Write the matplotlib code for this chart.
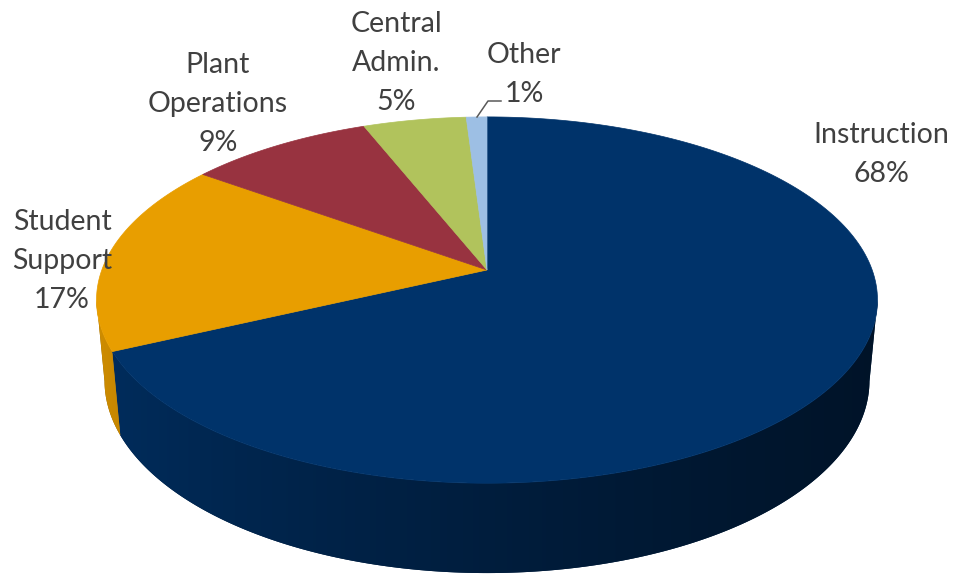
import numpy as np
import matplotlib
matplotlib.use("Agg")
import matplotlib.pyplot as plt
from matplotlib.patches import Polygon
from matplotlib.colors import to_rgb

# data
labels = ["Instruction", "Student\nSupport", "Plant\nOperations", "Central\nAdmin.", "Other"]
shares = [68, 17, 9, 5, 1]
colors = ["#00336a", "#e89e00", "#983340", "#b1c35c", "#9dbfe4"]

# label placement (x centre, first baseline) in pixels
label_pos = [(881, 143), (62, 230), (218, 73), (396, 32), (524, 63)]

# 3d view settings
W, H = 955, 575
cx, cy = 487, 270
elev = np.radians(27.56)
dist = 5.40
focal = 2080
depth = 0.238


def proj(theta, z):
    X = np.cos(theta)
    Y = np.sin(theta)
    d = dist + Y * np.cos(elev) - z * np.sin(elev)
    sx = focal * X / d
    sy = focal * (Y * np.sin(elev) + z * np.cos(elev)) / d
    return cx + sx, cy - sy


fig = plt.figure(figsize=(W / 100, H / 100), dpi=100)
ax = fig.add_axes([0, 0, 1, 1])
ax.set_xlim(0, W)
ax.set_ylim(H, 0)
ax.axis("off")

# slice angles, clockwise from 12 o'clock
fracs = np.array(shares) / sum(shares)
bounds = np.radians(90 - 360 * np.concatenate([[0], np.cumsum(fracs)]))

# visible part of the outer wall
lim = np.arcsin(np.cos(elev) / dist)
t0, t1 = -np.pi + lim, -lim
x_left = proj(t0, 0)[0]
x_right = proj(t1, 0)[0]

# horizontal shading, lighter on the left
xpix = np.arange(W) + 0.5
u = np.clip((xpix - x_left) / (x_right - x_left), 0, 1)
shade = 0.9 - 0.52 * u ** 0.7

for i in range(len(shares)):
    # clockwise, so the slice runs from bounds[i] down to bounds[i+1]
    hi = min(bounds[i], t1)
    lo = max(bounds[i + 1], t0)
    if hi <= lo:
        continue
    th = np.linspace(hi, lo, 200)
    xt, yt = proj(th, 0)
    xb, yb = proj(th[::-1], -depth)
    pts = list(zip(xt, yt)) + list(zip(xb, yb))
    c = np.array(to_rgb(colors[i]))
    wall = Polygon(pts, closed=True, facecolor=c * 0.6, edgecolor="none")
    ax.add_patch(wall)
    grad = (shade[:, None] * c[None, :])[None, :, :]
    im = ax.imshow(grad, extent=[0, W, H, 0], aspect="auto",
                   interpolation="bilinear", zorder=1.5)
    im.set_clip_path(wall)

# top faces
for i in range(len(shares)):
    th = np.linspace(bounds[i], bounds[i + 1], 200)
    xs, ys = proj(th, 0)
    pts = [(cx, cy)] + list(zip(xs, ys))
    ax.add_patch(Polygon(pts, closed=True, facecolor=colors[i],
                         edgecolor=colors[i], lw=0.5, zorder=2))

# labels
for i, (lab, (lx, ly)) in enumerate(zip(labels, label_pos)):
    lines = lab.split("\n") + ["%d%%" % shares[i]]
    for j, line in enumerate(lines):
        ax.text(lx, ly + 39 * j, line, ha="center", va="baseline",
                fontsize=20.5, color="#404040", family=["Lato", "DejaVu Sans"],
                zorder=3)

# leader line for the small slice
ax.plot([477, 488, 501], [117, 101, 101], color="#595959", lw=1.1, zorder=3)

ax.set_xlim(0, W)
ax.set_ylim(H, 0)
fig.savefig("out.png", dpi=100)
